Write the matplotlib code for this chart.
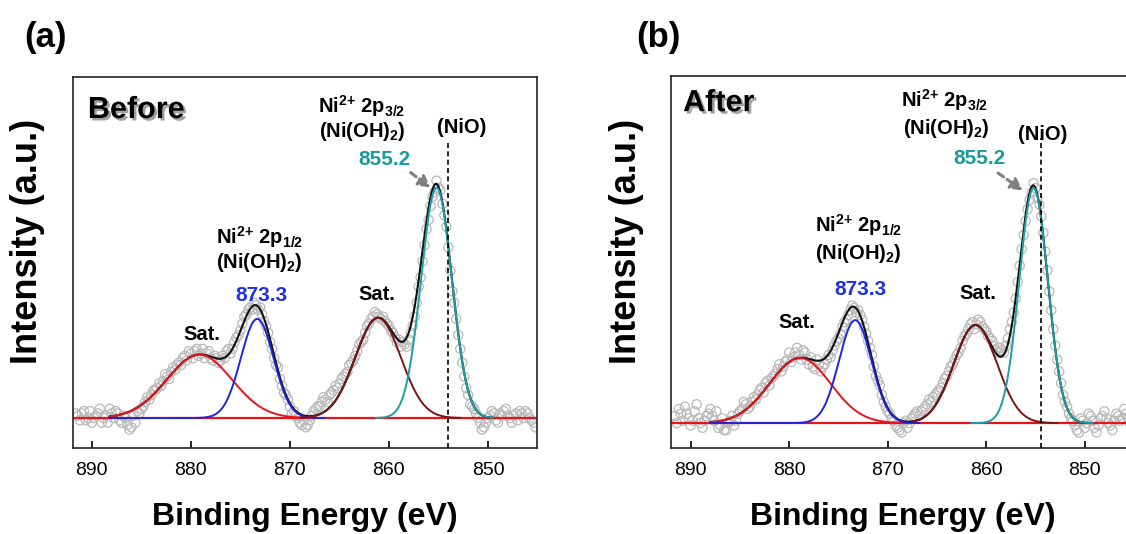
import numpy as np
import matplotlib
matplotlib.use("Agg")
import matplotlib.pyplot as plt
import matplotlib.patheffects as pe

plt.rcParams['font.family'] = ['Liberation Sans', 'DejaVu Sans']
plt.rcParams['mathtext.fontset'] = 'custom'
plt.rcParams['mathtext.rm'] = 'Liberation Sans'
plt.rcParams['mathtext.bf'] = 'Liberation Sans:bold'
plt.rcParams['mathtext.it'] = 'Liberation Sans:italic'

# Ni 2p spectra, normalised counts.
# *_even: sampled every 0.4 eV from 891.6 eV down to 845.2 eV
# *_odd:  the interleaved samples, 891.4 eV down to 845.4 eV
intensity_before_even = [
    0.02, -0.01, 0.03, 0.00, -0.02, 0.01, 0.04, 0.00, -0.02, 0.02,
    0.03, -0.01, 0.01, -0.03, -0.04, -0.02, 0.02, 0.05, 0.09, 0.10,
    0.12, 0.15, 0.16, 0.18, 0.20, 0.21, 0.24, 0.26, 0.25, 0.28,
    0.29, 0.27, 0.30, 0.28, 0.26, 0.27, 0.24, 0.27, 0.29, 0.28,
    0.33, 0.36, 0.41, 0.45, 0.48, 0.50, 0.47, 0.45, 0.40, 0.33,
    0.26, 0.22, 0.14, 0.10, 0.05, 0.03, 0.00, -0.03, -0.04, -0.01,
    0.03, 0.05, 0.07, 0.08, 0.10, 0.12, 0.13, 0.17, 0.19, 0.23,
    0.25, 0.29, 0.33, 0.37, 0.41, 0.44, 0.45, 0.43, 0.42, 0.40,
    0.37, 0.33, 0.31, 0.32, 0.34, 0.40, 0.50, 0.61, 0.75, 0.86,
    0.96, 1.03, 0.99, 0.88, 0.74, 0.55, 0.43, 0.30, 0.18, 0.10,
    0.05, 0.02, -0.02, -0.04, 0.00, 0.03, -0.01, 0.02, 0.03, 0.01,
    -0.02, 0.02, 0.03, 0.00, 0.02, -0.01, -0.04,
]
intensity_before_odd = [
    0.01, 0.02, -0.01, 0.03, 0.00, 0.02, -0.02, 0.01, 0.04, 0.00,
    0.02, -0.02, 0.00, -0.05, 0.01, 0.03, 0.04, 0.07, 0.08, 0.12,
    0.13, 0.14, 0.19, 0.17, 0.22, 0.23, 0.23, 0.27, 0.29, 0.26,
    0.30, 0.28, 0.26, 0.29, 0.25, 0.26, 0.25, 0.26, 0.30, 0.30,
    0.35, 0.38, 0.44, 0.47, 0.47, 0.49, 0.48, 0.42, 0.37, 0.30,
    0.23, 0.17, 0.11, 0.08, 0.02, 0.01, -0.02, -0.01, -0.03, 0.01,
    0.04, 0.05, 0.09, 0.07, 0.11, 0.14, 0.15, 0.18, 0.20, 0.24,
    0.27, 0.32, 0.34, 0.40, 0.43, 0.46, 0.44, 0.44, 0.41, 0.38,
    0.35, 0.34, 0.33, 0.31, 0.37, 0.44, 0.57, 0.68, 0.82, 0.92,
    0.98, 1.00, 0.93, 0.83, 0.64, 0.50, 0.36, 0.24, 0.13, 0.06,
    0.04, 0.00, -0.05, -0.02, 0.01, 0.02, -0.02, 0.01, 0.04, 0.00,
    0.01, -0.01, 0.02, 0.03, 0.00, -0.02,
]
intensity_after_even = [
    0.03, 0.06, 0.01, 0.04, -0.01, 0.05, 0.02, -0.02, 0.03, 0.06,
    0.01, -0.02, 0.02, -0.03, 0.01, -0.01, 0.04, 0.06, 0.08, 0.07,
    0.11, 0.12, 0.15, 0.17, 0.16, 0.20, 0.23, 0.22, 0.26, 0.30,
    0.28, 0.32, 0.27, 0.30, 0.25, 0.24, 0.27, 0.22, 0.25, 0.29,
    0.31, 0.35, 0.38, 0.43, 0.46, 0.50, 0.47, 0.46, 0.41, 0.35,
    0.29, 0.20, 0.16, 0.09, 0.05, 0.02, -0.01, -0.03, 0.00, -0.02,
    0.02, 0.04, 0.03, 0.06, 0.08, 0.09, 0.12, 0.14, 0.17, 0.20,
    0.24, 0.27, 0.30, 0.35, 0.38, 0.42, 0.40, 0.44, 0.41, 0.39,
    0.36, 0.33, 0.30, 0.31, 0.33, 0.40, 0.47, 0.60, 0.74, 0.86,
    0.95, 1.02, 0.96, 0.88, 0.73, 0.56, 0.40, 0.27, 0.17, 0.09,
    0.04, 0.01, -0.03, 0.02, -0.02, 0.04, 0.01, -0.04, 0.02, 0.05,
    0.00, -0.03, 0.04, 0.01, 0.06, 0.02, -0.02,
]
intensity_after_odd = [
    0.00, 0.04, 0.07, 0.02, 0.01, 0.08, 0.00, 0.01, 0.04, 0.03,
    0.05, -0.01, -0.03, 0.00, 0.03, 0.01, 0.05, 0.09, 0.06, 0.09,
    0.10, 0.14, 0.13, 0.18, 0.19, 0.21, 0.25, 0.24, 0.27, 0.26,
    0.30, 0.29, 0.31, 0.27, 0.28, 0.23, 0.25, 0.24, 0.27, 0.28,
    0.33, 0.36, 0.41, 0.44, 0.48, 0.49, 0.48, 0.44, 0.38, 0.32,
    0.24, 0.18, 0.12, 0.07, 0.04, 0.01, -0.02, -0.04, 0.01, 0.00,
    0.03, 0.05, 0.05, 0.07, 0.10, 0.11, 0.13, 0.15, 0.19, 0.22,
    0.25, 0.29, 0.32, 0.37, 0.40, 0.43, 0.42, 0.43, 0.40, 0.37,
    0.35, 0.31, 0.32, 0.30, 0.36, 0.43, 0.53, 0.67, 0.80, 0.91,
    0.98, 1.00, 0.93, 0.81, 0.65, 0.48, 0.33, 0.22, 0.12, 0.07,
    0.02, -0.01, -0.04, 0.01, 0.00, 0.03, -0.02, -0.01, 0.03, 0.02,
    -0.01, 0.01, 0.03, 0.02, 0.04, 0.00,
]

# Gaussian fit components: Sat. (2p1/2), Ni2+ 2p1/2, Sat. (2p3/2), Ni2+ 2p3/2
peak_colors = ['#e8141b', '#1f24e0', '#7b1414', '#1b9ea6']
centers_before = [879.15, 873.3, 861.1, 855.2]
heights_before = [0.275, 0.43, 0.435, 1.0]
sigmas_before = [3.3, 1.65, 2.3, 1.55]
windows_before = [(888.2, 866.5), (888.2, 866.5), (869.0, 852.8), (861.3, 849.5)]

centers_after = [878.9, 873.3, 861.1, 855.2]
heights_after = [0.277, 0.438, 0.417, 1.0]
sigmas_after = [3.1, 1.65, 2.2, 1.45]
windows_after = [(888.0, 866.8), (888.0, 866.8), (867.5, 852.8), (861.5, 849.2)]

nio_before = 854.0
nio_after = 854.4

x_ticks = [890, 880, 870, 860, 850]

label_32 = r'Ni$^{\mathbf{2{+}}}$ 2p$_{\mathbf{3/2}}$'
label_12 = r'Ni$^{\mathbf{2{+}}}$ 2p$_{\mathbf{1/2}}$'
label_oh = r'(Ni(OH)$_{\mathbf{2}}$)'

W, H = 1126, 534
fig = plt.figure(figsize=(W / 100, H / 100), dpi=100)


def gauss(e, c, h, s):
    return h * np.exp(-((e - c) ** 2) / (2 * s ** 2))


def draw_panel(ax, even, odd, centers, heights, sigmas, windows, nio,
               xlim, ylim, nio_top, title, notes):
    e_even = np.linspace(891.6, 845.2, len(even))
    e_odd = np.linspace(891.4, 845.4, len(odd))
    for e, v in ((e_even, even), (e_odd, odd)):
        ax.scatter(e, v, s=44, facecolors='none', edgecolors='#b9b9b9',
                   linewidths=0.9, zorder=1.5)

    # red background line
    ax.plot([xlim[0], xlim[1]], [0, 0], color='#e8141b', lw=1.6, zorder=2)

    # fit envelope
    lo = min(w[1] for w in windows)
    hi = max(w[0] for w in windows)
    e_fine = np.linspace(hi, lo, 800)
    env = sum(gauss(e_fine, c, h, s) for c, h, s in zip(centers, heights, sigmas))
    ax.plot(e_fine, env, color='#111111', lw=1.5, zorder=3)

    for c, h, s, w, col in zip(centers, heights, sigmas, windows, peak_colors):
        e = np.linspace(w[0], w[1], 400)
        ax.plot(e, gauss(e, c, h, s), color=col, lw=1.4, zorder=4)

    ax.plot([nio, nio], [ylim[0], nio_top], color='black', lw=1.2,
            ls=(0, (3, 2)), zorder=5)

    ax.set_xlim(*xlim)
    ax.set_ylim(*ylim)
    ax.set_xticks(x_ticks)
    ax.set_yticks([])
    ax.tick_params(axis='x', direction='in', length=5, width=1.2,
                   labelsize=14, pad=10, top=False)
    for sp in ax.spines.values():
        sp.set_linewidth(1.2)
        sp.set_color('#222222')

    ax.text(title[1], title[2], title[0], transform=ax.transAxes,
            ha='left', va='center', fontsize=22, fontweight='bold',
            path_effects=[pe.SimplePatchShadow(offset=(1.8, -1.8),
                                               shadow_rgbFace='#7a7a7a', alpha=0.7),
                          pe.Normal()])

    kw = dict(ha='center', va='center', fontweight='bold')
    ax.text(*notes['n32'], label_32, fontsize=14.5, **kw)
    ax.text(*notes['oh32'], label_oh, fontsize=14.5, **kw)
    ax.text(*notes['v32'], '855.2', fontsize=15, color='#1b9a9c', **kw)
    ax.text(*notes['nio'], '(NiO)', fontsize=14.5, **kw)
    ax.text(*notes['n12'], label_12, fontsize=14.5, **kw)
    ax.text(*notes['oh12'], label_oh, fontsize=14.5, **kw)
    ax.text(*notes['v12'], '873.3', fontsize=15, color='#1f30e6', **kw)
    ax.text(*notes['sat1'], 'Sat.', fontsize=14.5, **kw)
    ax.text(*notes['sat2'], 'Sat.', fontsize=14.5, **kw)
    ax.annotate('', xy=notes['arrow'][1], xytext=notes['arrow'][0],
                arrowprops=dict(arrowstyle='-|>,head_length=0.7,head_width=0.38',
                                color='#808080', lw=2.2, ls=(0, (2.2, 1.4)),
                                shrinkA=0, shrinkB=0), zorder=6)


ax_a = fig.add_axes([73 / W, (H - 448) / H, 464 / W, 371 / H])
draw_panel(ax_a, intensity_before_even, intensity_before_odd, centers_before,
           heights_before, sigmas_before, windows_before, nio_before,
           (891.9, 845.05), (-0.13, 1.48), 1.196,
           ('Before', 0.032, 0.911),
           dict(n32=(862.8, 1.352), oh32=(862.7, 1.243), v32=(860.4, 1.122),
                nio=(852.7, 1.261), n12=(873.1, 0.787), oh12=(873.1, 0.674),
                v12=(872.9, 0.530), sat1=(878.9, 0.361), sat2=(861.2, 0.535),
                arrow=((857.8, 1.065), (855.8, 1.0))))

ax_b = fig.add_axes([671 / W, (H - 448) / H, 464 / W, 372 / H])
draw_panel(ax_b, intensity_after_even, intensity_after_odd, centers_after,
           heights_after, sigmas_after, windows_after, nio_after,
           (892.0, 844.9), (-0.106, 1.477), 1.213,
           ('After', 0.026, 0.927),
           dict(n32=(864.2, 1.374), oh32=(864.0, 1.255), v32=(860.7, 1.128),
                nio=(854.3, 1.230), n12=(873.0, 0.843), oh12=(873.0, 0.723),
                v12=(872.8, 0.570), sat1=(879.2, 0.426), sat2=(860.9, 0.553),
                arrow=((858.8, 1.064), (856.3, 0.99))))

for y_x, x_x, tag, tag_x in [(28, 305, '(a)', 46), (626, 903, '(b)', 658)]:
    fig.text(y_x / W, (H - 241) / H, 'Intensity (a.u.)', rotation=90,
             ha='center', va='center', fontsize=26, fontweight='bold')
    fig.text(x_x / W, (H - 517) / H, 'Binding Energy (eV)',
             ha='center', va='center', fontsize=23, fontweight='bold')
    fig.text(tag_x / W, (H - 37) / H, tag, ha='center', va='center',
             fontsize=25, fontweight='bold')

fig.savefig('out.png', dpi=100)
